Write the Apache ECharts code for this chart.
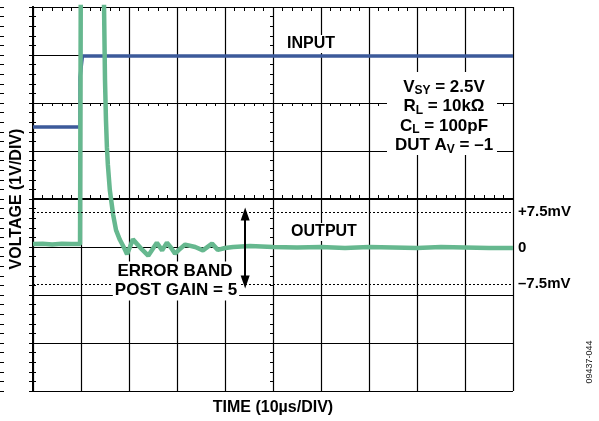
<!DOCTYPE html>
<html>
<head>
<meta charset="utf-8">
<script src="https://cdn.jsdelivr.net/npm/echarts@6/dist/echarts.min.js"></script>
<style>
  html, body { margin: 0; padding: 0; background: #fff; }
  #chart { width: 599px; height: 421px; }
</style>
</head>
<body>
<div id="chart"></div>
<script>
// time in us (10us/div), voltage in divisions (1V/div)
const inTime  = [0, 9.8, 9.8, 10.3, 100];
const inLevel = [1.5, 1.5, 2.54, 2.98, 2.98];

const outTime = [0, 2, 4, 6, 8, 9.8, 10.0, 14.6, 14.8, 15.0, 15.2, 15.4, 15.6, 16.0, 16.7, 17.3, 18.1, 19.0, 19.6,
  20.2, 20.8, 21.7, 22.7, 24.0, 24.8, 25.8, 26.9, 27.9, 28.8, 29.6, 30.6, 31.7, 33.8, 35.4, 37.3, 38.5, 40.0,
  41.7, 45.2, 50, 55, 60, 65, 70, 75, 80, 85, 90, 95, 100];
const outLevel = [-0.94, -0.93, -0.95, -0.93, -0.94, -0.94, 6, 6, 4.0, 2.48, 1.65, 1.08, 0.71, 0.19, -0.33, -0.65, -0.85, -1.02, -1.15,
  -1.0, -0.84, -0.94, -1.05, -1.18, -1.06, -0.91, -1.07, -0.91, -1.02, -1.14, -1.04, -0.95, -1.0, -1.07, -0.93, -1.06, -1.02,
  -1.0, -0.98, -1.0, -1.01, -1.0, -1.02, -1.0, -1.01, -1.02, -1.0, -1.01, -1.02, -1.02];

const bandCenter = -1.02;
const bandHalf = 0.75;
const bandLabels = ['+7.5mV', '0', '\u20137.5mV'];
const arrowTime = 44.2;

const inputData = inTime.map((t, i) => [t, inLevel[i]]);
const outputData = outTime.map((t, i) => [t, outLevel[i]]);

const FONT = 'Liberation Sans, Arial, sans-serif';
const black = '#000';

function xAx(extra) {
  return Object.assign({
    type: 'value', min: 0, max: 100, interval: 10,
    axisLabel: { show: false },
    axisLine: { show: false },
    axisTick: { show: false },
    minorTick: { show: false },
    splitLine: { show: false }
  }, extra);
}
function yAx(extra) {
  return Object.assign({
    type: 'value', min: -4, max: 4, interval: 1,
    axisLabel: { show: false },
    axisLine: { show: false },
    axisTick: { show: false },
    minorTick: { show: false },
    splitLine: { show: false }
  }, extra);
}
const border = { show: true, lineStyle: { color: black, width: 2 } };
const edgeTick = { show: true, inside: false, length: 4, lineStyle: { color: black } };
const edgeMinor = { show: true, splitNumber: 5, length: 4, lineStyle: { color: black, width: 1 } };
const centerMinor = { show: true, splitNumber: 5, length: 3, lineStyle: { color: black, width: 1 } };
const tickOut = { show: true, inside: false, length: 3, lineStyle: { color: black } };
const tickIn = { show: true, inside: true, length: 3, lineStyle: { color: black } };

const chart = echarts.init(document.getElementById('chart'));
chart.setOption({
  animation: false,
  grid: [
    { left: 33, top: 7, width: 480, height: 384 },   // plot
    { left: 33, top: 7, width: 480, height: 192 },   // centre horizontal ticks
    { left: 33, top: 7, width: 240, height: 384 },   // centre vertical ticks
    { left: 0, top: 7, width: 33, height: 384 },     // left border ticks
    { left: 33, top: 0, width: 480, height: 7 }      // top border ticks
  ],
  xAxis: [
    xAx({
      position: 'bottom', axisLine: border,
      axisTick: { show: true, inside: true, length: 4, lineStyle: { color: black } }, minorTick: edgeMinor,
      splitLine: { show: true, lineStyle: { color: black, width: 1.2 } },
      name: 'TIME (10\u00b5s/DIV)', nameLocation: 'middle', nameGap: 9,
      nameTextStyle: { color: black, fontFamily: FONT, fontWeight: 'bold', fontSize: 16 }
    }),
    xAx({ position: 'top', axisLine: border }),
    xAx({ gridIndex: 1, position: 'bottom', axisTick: tickOut, minorTick: centerMinor }),
    xAx({ gridIndex: 1, position: 'bottom', axisTick: tickIn, minorTick: centerMinor }),
    xAx({ gridIndex: 2, show: false }),
    xAx({ gridIndex: 3, show: false }),
    xAx({ gridIndex: 4, position: 'bottom', axisTick: edgeTick, minorTick: edgeMinor })
  ],
  yAxis: [
    yAx({
      position: 'left', axisLine: border,
      splitLine: { show: true, lineStyle: { color: black, width: 1.2 } },
      name: 'VOLTAGE (1V/DIV)', nameLocation: 'middle', nameGap: 8,
      nameTextStyle: { color: black, fontFamily: FONT, fontWeight: 'bold', fontSize: 16 }
    }),
    yAx({ position: 'right', axisLine: border,
      axisTick: { show: true, inside: true, length: 4, lineStyle: { color: black } }, minorTick: edgeMinor }),
    yAx({ gridIndex: 1, show: false }),
    yAx({ gridIndex: 2, position: 'right', axisTick: tickOut, minorTick: centerMinor }),
    yAx({ gridIndex: 2, position: 'right', axisTick: tickIn, minorTick: centerMinor }),
    yAx({ gridIndex: 3, position: 'right', axisTick: edgeTick, minorTick: edgeMinor }),
    yAx({ gridIndex: 4, show: false, min: 0, max: 1 })
  ],
  series: [
    {
      name: 'INPUT', type: 'line', data: inputData, showSymbol: false, z: 3,
      lineStyle: { color: '#3c5a9a', width: 3.5 },
      markLine: {
        silent: true, symbol: ['triangle', 'triangle'], symbolSize: [9, 13],
        label: { show: false },
        lineStyle: { color: black, width: 2, type: 'solid' },
        data: [[{ coord: [arrowTime, bandCenter + bandHalf - 0.04] }, { coord: [arrowTime, bandCenter - bandHalf + 0.04] }]]
      }
    },
    {
      name: 'OUTPUT', type: 'line', data: outputData, showSymbol: false, z: 4,
      lineStyle: { color: '#66b88f', width: 4.5 },
      markLine: {
        silent: true, symbol: 'none',
        lineStyle: { color: black, width: 1, type: [2, 2] },
        label: { show: true, position: 'end', distance: 5, color: black, fontFamily: FONT, fontWeight: 'bold', fontSize: 15 },
        data: [
          { yAxis: bandCenter + bandHalf, label: { formatter: bandLabels[0] } },
          { yAxis: bandCenter, label: { formatter: bandLabels[1] }, lineStyle: { color: 'rgba(0,0,0,0)' } },
          { yAxis: bandCenter - bandHalf, label: { formatter: bandLabels[2] } }
        ]
      }
    }
  ],
  graphic: [
    { type: 'text', z: 10, style: { text: 'INPUT', x: 311, y: 44, align: 'center', verticalAlign: 'middle', fill: black,
        font: 'bold 16px ' + FONT, backgroundColor: '#fff', padding: [1, 2] } },
    { type: 'text', z: 10, style: { text: 'OUTPUT', x: 324, y: 232, align: 'center', verticalAlign: 'middle', fill: black,
        font: 'bold 16px ' + FONT, backgroundColor: '#fff', padding: [1, 2] } },
    { type: 'text', z: 10, style: { text: 'ERROR BAND', x: 175, y: 271, align: 'center', verticalAlign: 'middle', fill: black,
        font: 'bold 17px ' + FONT, backgroundColor: '#fff', padding: [1, 2] } },
    { type: 'text', z: 10, style: { text: 'POST GAIN = 5', x: 176, y: 290, align: 'center', verticalAlign: 'middle', fill: black,
        font: 'bold 17px ' + FONT, backgroundColor: '#fff', padding: [2, 2] } },
    { type: 'rect', z: 9, shape: { x: 387, y: 72, width: 110, height: 83 }, style: { fill: '#fff' } },
    { type: 'text', z: 10, style: { text: 'V{s|SY} = 2.5V', x: 444, y: 87, align: 'center', verticalAlign: 'middle', fill: black,
        font: 'bold 17px ' + FONT, rich: { s: { fontSize: 12, fontWeight: 'bold', fontFamily: FONT, padding: [8, 0, 0, 0] } } } },
    { type: 'text', z: 10, style: { text: 'R{s|L} = 10k\u03a9', x: 444, y: 106.5, align: 'center', verticalAlign: 'middle', fill: black,
        font: 'bold 17px ' + FONT, rich: { s: { fontSize: 12, fontWeight: 'bold', fontFamily: FONT, padding: [8, 0, 0, 0] } } } },
    { type: 'text', z: 10, style: { text: 'C{s|L} = 100pF', x: 444, y: 126, align: 'center', verticalAlign: 'middle', fill: black,
        font: 'bold 17px ' + FONT, rich: { s: { fontSize: 12, fontWeight: 'bold', fontFamily: FONT, padding: [8, 0, 0, 0] } } } },
    { type: 'text', z: 10, style: { text: 'DUT A{s|V} = \u20131', x: 444, y: 145.5, align: 'center', verticalAlign: 'middle', fill: black,
        font: 'bold 17px ' + FONT, rich: { s: { fontSize: 12, fontWeight: 'bold', fontFamily: FONT, padding: [8, 0, 0, 0] } } } },
    { type: 'text', z: 10, rotation: Math.PI / 2, x: 590, y: 362, style: { text: '09437-044', x: 0, y: 0, align: 'center', verticalAlign: 'middle',
        fill: '#222', font: '9px ' + FONT } }
  ]
});
</script>
</body>
</html>
